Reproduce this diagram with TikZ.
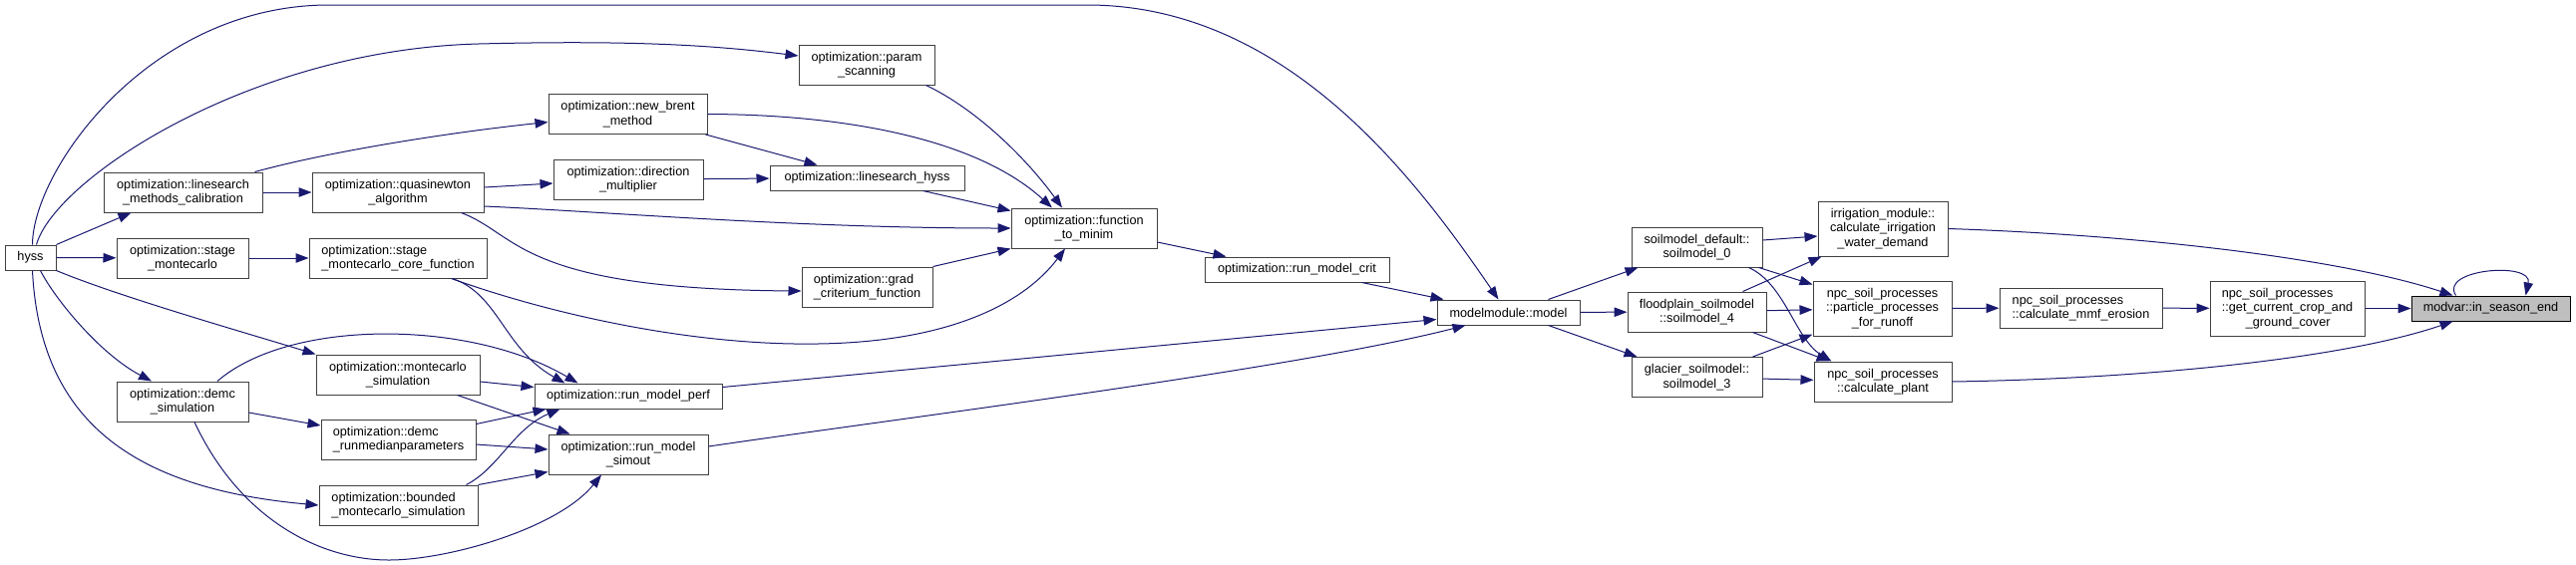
\documentclass[tikz,border=0pt]{standalone}
\usepackage{fontspec}
\setmainfont{Liberation Sans}
\usepackage{xcolor}
\usepackage{tikz}
\usetikzlibrary{arrows.meta}
\definecolor{midblue}{HTML}{191970}
\definecolor{boxgrey}{HTML}{BFBFBF}
\tikzset {
  >={Triangle[length=13pt, width=9.5pt]},
  % function box
  main/.style = {draw=black!75, fill=white, line width=1pt, inner sep=0pt,
    align=center, font=\fontsize{12.7}{14.5}\selectfont},
  box/.style 2 args = {minimum width=#1, minimum height=#2},
  % the function whose callers are shown
  current/.style = {main, draw=black, fill=boxgrey},
  % a call
  call/.style = {->, midblue, line width=1pt},
}

\begin{document}
\begin{tikzpicture}[x=1pt, y=-1pt]
  \path[fill=white, use as bounding box] (0,0) rectangle (2583,566);

  \node[main, box={51}{25}] (1) at (30.5,258.5) {hyss};
  \node[main, box={159}{40}] (2) at (183.5,193) {optimization::linesearch\\\_methods\_calibration};
  \node[main, box={132}{40}] (3) at (183,259) {optimization::stage\\\_montecarlo};
  \node[main, box={132}{40}] (4) at (183,403) {optimization::demc\\\_simulation};
  \node[main, box={172}{40}] (5) at (399,193) {optimization::quasinewton\\\_algorithm};
  \node[main, box={178}{40}, align=left] (6) at (399,259) {optimization::stage\\\_montecarlo\_core\_function};
  \node[main, box={164}{40}] (7) at (399,376) {optimization::montecarlo\\\_simulation};
  \node[main, box={155}{40}, align=left] (8) at (399.5,441) {optimization::demc\\\_runmedianparameters};
  \node[main, box={159}{40}, align=left] (9) at (399.5,507) {optimization::bounded\\\_montecarlo\_simulation};
  \node[main, box={159}{40}] (10) at (629.5,114.5) {optimization::new\_brent\\\_method};
  \node[main, box={150}{40}] (11) at (630,180) {optimization::direction\\\_multiplier};
  \node[main, box={188}{25}] (12) at (630,397.5) {optimization::run\_model\_perf};
  \node[main, box={160}{40}] (13) at (630,456) {optimization::run\_model\\\_simout};
  \node[main, box={136}{40}] (14) at (869,65) {optimization::param\\\_scanning};
  \node[main, box={195}{25}] (15) at (869.5,178.5) {optimization::linesearch\_hyss};
  \node[main, box={131}{40}, align=left] (16) at (869.5,288) {optimization::grad\\\_criterium\_function};
  \node[main, box={146}{40}] (17) at (1087,229) {optimization::function\\\_to\_minim};
  \node[main, box={185}{25}] (18) at (1300.5,270.5) {optimization::run\_model\_crit};
  \node[main, box={143}{25}] (19) at (1512.5,313.5) {modelmodule::model};
  \node[main, box={131}{40}] (20) at (1701.5,248) {soilmodel\_default::\\soilmodel\_0};
  \node[main, box={139}{40}] (21) at (1701.5,313) {floodplain\_soilmodel\\::soilmodel\_4};
  \node[main, box={131}{40}] (22) at (1701.5,378.5) {glacier\_soilmodel::\\soilmodel\_3};
  \node[main, box={130}{55}] (23) at (1888,229.5) {irrigation\_module::\\calculate\_irrigation\\\_water\_demand};
  \node[main, box={139}{55}] (24) at (1887.5,309.5) {npc\_soil\_processes\\::particle\_processes\\\_for\_runoff};
  \node[main, box={138}{40}] (25) at (1888,383) {npc\_soil\_processes\\::calculate\_plant};
  \node[main, box={163}{40}, align=left] (26) at (2086.5,309) {npc\_soil\_processes\\::calculate\_mmf\_erosion};
  \node[main, box={155}{55}, align=left] (27) at (2293.5,309.5) {npc\_soil\_processes\\::get\_current\_crop\_and\\\hspace*{24pt}\_ground\_cover};
  \node[current, box={159}{25}] (28) at (2497.5,309.5) {modvar::in\_season\_end};

  \draw[call] (1.north east) -- ([xshift=28]2.south west);
  \draw[call] (1) -- (3);
  \draw[call] ([xshift=10]1.south) .. controls (55,300) and (100,355) .. ([xshift=-31]4.north);
  \draw[call] (1.south east) .. controls (120,298) and (250,335) .. (7.north west);
  \draw[call] ([xshift=2]1.south) .. controls (40,420) and (130,490) .. (9.west);
  \draw[call] ([xshift=2]1.north) .. controls (33,170) and (150,5) .. (330,5) -- (1090,5)
    .. controls (1290,5) and (1420,180) .. ([xshift=-10]19.north);
  \draw[call] ([xshift=6]1.north) .. controls (55,180) and (250,50) .. (480,44)
    .. controls (640,40) and (720,46) .. ([yshift=9]14.west);
  \draw[call] ([xshift=-8]2.north east) .. controls (330,152) and (450,133) .. ([yshift=-8]10.west);
  \draw[call] (2) -- (5);
  \draw[call] ([yshift=5]5.east) -- ([yshift=-4]11.west);
  \draw[call] ([yshift=-14]5.east) .. controls (600,212) and (800,229) .. (17.west);
  \draw[call] ([xshift=-23]5.south east) .. controls (520,235) and (520,290) .. ([yshift=-4]16.west);
  \draw[call] (3) -- (6);
  \draw[call] ([xshift=-36]6.south east) .. controls (560,318) and (700,347) .. (820,345)
    .. controls (960,343) and (1030,300) .. ([xshift=-19]17.south);
  \draw[call] ([xshift=-35]6.south east) .. controls (500,295) and (505,350) .. ([xshift=31]12.north west);
  \draw[call] ([xshift=-42]15.south east) -- ([yshift=-3]17.north west);
  \draw[call] ([xshift=-2]10.south east) -- ([xshift=48]15.north west);
  \draw[call] (10.east) .. controls (850,115) and (980,140) .. ([xshift=-32]17.north);
  \draw[call] (11) -- (15);
  \draw[call] ([xshift=-9]14.south east) .. controls (980,110) and (1030,160) .. ([xshift=-22]17.north);
  \draw[call] (16.north east) -- (17.south west);
  \draw[call] ([yshift=-14]17.east) -- ([xshift=22]18.north west);
  \draw[call] ([xshift=-28]18.south east) -- ([xshift=7]19.north west);
  \draw[call] ([yshift=9]12.east) -- ([yshift=-7]19.west);
  \draw[call] ([yshift=8]13.east) .. controls (900,420) and (1300,370) .. ([xshift=29]19.south west);
  \draw[call] ([xshift=35]4.north) .. controls (290,320) and (470,320) .. ([xshift=44]12.north west);
  \draw[call] ([yshift=-11]4.east) -- ([yshift=14]8.west);
  \draw[call] ([xshift=12]4.south) .. controls (240,520) and (320,562) .. (390,562)
    .. controls (450,562) and (560,530) .. ([xshift=-27]13.south);
  \draw[call] ([yshift=-7]7.east) -- ([yshift=9]12.west);
  \draw[call] ([xshift=-23]7.south east) -- ([xshift=22]13.north west);
  \draw[call] ([yshift=-5]8.north east) -- ([xshift=12]12.south west);
  \draw[call] ([yshift=-5]8.east) -- ([yshift=5]13.west);
  \draw[call] ([xshift=-12]9.north east) .. controls (500,470) and (515,430) .. ([xshift=26]12.south west);
  \draw[call] (9.north east) -- ([yshift=3]13.south west);
  \draw[call] ([xshift=40]19.north) -- ([xshift=7]20.south west);
  \draw[call] (19) -- (21);
  \draw[call] ([xshift=40]19.south) -- ([xshift=6]22.north west);
  \draw[call] ([yshift=7]20.east) -- ([yshift=-7.5]23.west);
  \draw[call] ([xshift=-4]20.south east) -- ([yshift=-4]24.north west);
  \draw[call] ([xshift=-14]20.south east) .. controls (1790,285) and (1800,340) .. ([xshift=18]25.north west);
  \draw[call] ([xshift=-24]21.north east) -- ([xshift=4]23.south west);
  \draw[call] (21) -- (24);
  \draw[call] ([xshift=-14]21.south east) -- ([xshift=16]25.north west);
  \draw[call] ([xshift=-10]22.north east) -- ([yshift=2]24.south west);
  \draw[call] (22) -- (25);
  \draw[call] (23.east) .. controls (2150,236) and (2350,260) .. ([xshift=42]28.north west);
  \draw[call] (24) -- (26);
  \draw[call] (26) -- (27);
  \draw[call] (27) -- (28);
  \draw[call] (25.east) .. controls (2150,380) and (2350,360) .. ([xshift=42]28.south west);
  \draw[call] ([xshift=45]28.north west) .. controls (2445,270) and (2540,262) .. ([xshift=-45]28.north east);
\end{tikzpicture}
\end{document}
